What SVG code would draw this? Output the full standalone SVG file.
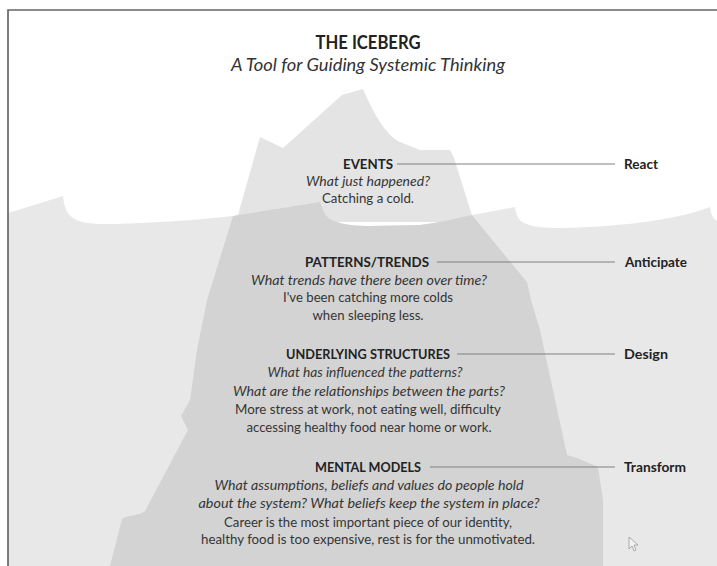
<svg xmlns="http://www.w3.org/2000/svg" width="717" height="566" viewBox="0 0 717 566">
<style>
.h{font-family:Lato,"Liberation Sans",sans-serif;font-weight:bold;font-size:14px;fill:#222;text-anchor:middle}
.r{font-family:Lato,"Liberation Sans",sans-serif;font-weight:bold;font-size:14px;fill:#222}
.q{font-family:Lato,"Liberation Sans",sans-serif;font-style:italic;font-size:14px;fill:#353535;text-anchor:middle}
.b{font-family:Lato,"Liberation Sans",sans-serif;font-size:14px;fill:#353535;text-anchor:middle}
.c{stroke:#808080;stroke-width:1.2;fill:none}
</style>
<rect width="717" height="566" fill="#fff"/>
<g id="scene">
<path id="tip" d="M236,222 L260,137 L283,148 L342,95 L363,89 C372,110 385,135 400,142 L420,150 L450,150 L454,158 L474,222 Z" fill="#e4e4e4"/>
<path id="sea" d="M8,213 L63,196 C64,206 66,213 73,218 C82,224 95,224 115,224 Q180,222 233,216 L320,202 L324,212 C328,222 345,226 370,226 L420,225 C445,222 460,217 472,215 L515,207 C516,215 518,220 524,223 C532,227 545,228 560,228 C610,227 670,222 710,207 C711,214 713,219 717,221 L717,566 L8,566 Z" fill="#e8e8e8"/>
<path id="submerged" d="M233,216 L320,202 L324,212 C328,222 345,226 370,226 L420,225 C445,222 460,217 472,215 L503,253 L527,282 L531,300 L540,330 L567,455 L577,458 L598,467 L603,500 L603,566 L110,566 L122,519 C126,515 140,516 145,511 L188,430 L181,416 L190,400 L197,350 L207,300 Z" fill="#d3d3d3"/>
<path id="cursor" d="M629,537 L629,549 L632,546 L634,551 L636,550 L634,545 L638,545 Z" fill="#f2f2f2" stroke="#9a9a9a" stroke-width="0.8"/>
</g>
<g id="border" stroke="#666" stroke-width="1.7" fill="none">
<path d="M8,566 L8,10 L717,10"/>
</g>
<g id="title">
<text x="368" y="49" style="font-family:Lato,'Liberation Sans',sans-serif;font-weight:bold;font-size:18px;fill:#222" text-anchor="middle" textLength="105" lengthAdjust="spacingAndGlyphs">THE ICEBERG</text>
<text x="368" y="71" style="font-family:Lato,'Liberation Sans',sans-serif;font-style:italic;font-size:17px;fill:#333" text-anchor="middle" textLength="274" lengthAdjust="spacingAndGlyphs">A Tool for Guiding Systemic Thinking</text>
</g>
<g id="connectors">
<line class="c" x1="397" y1="164" x2="615" y2="164"/>
<line class="c" x1="437" y1="262" x2="615" y2="262"/>
<line class="c" x1="457" y1="354" x2="615" y2="354"/>
<line class="c" x1="430" y1="467" x2="615" y2="467"/>
</g>
<g id="events">
<text class="h" x="368" y="169" textLength="50" lengthAdjust="spacingAndGlyphs">EVENTS</text>
<text class="q" x="368" y="186" textLength="124" lengthAdjust="spacingAndGlyphs">What just happened?</text>
<text class="b" x="368" y="203" textLength="92" lengthAdjust="spacingAndGlyphs">Catching a cold.</text>
</g>
<g id="patterns">
<text class="h" x="367" y="267" textLength="124" lengthAdjust="spacingAndGlyphs">PATTERNS/TRENDS</text>
<text class="q" x="369" y="285" textLength="236" lengthAdjust="spacingAndGlyphs">What trends have there been over time?</text>
<text class="b" x="368" y="302" textLength="170" lengthAdjust="spacingAndGlyphs">I've been catching more colds</text>
<text class="b" x="368" y="320" textLength="111" lengthAdjust="spacingAndGlyphs">when sleeping less.</text>
</g>
<g id="structures">
<text class="h" x="368" y="359" textLength="164" lengthAdjust="spacingAndGlyphs">UNDERLYING STRUCTURES</text>
<text class="q" x="365" y="377" textLength="195" lengthAdjust="spacingAndGlyphs">What has influenced the patterns?</text>
<text class="q" x="369" y="396" textLength="272" lengthAdjust="spacingAndGlyphs">What are the relationships between the parts?</text>
<text class="b" x="368" y="414" textLength="266" lengthAdjust="spacingAndGlyphs">More stress at work, not eating well, difficulty</text>
<text class="b" x="369" y="432" textLength="245" lengthAdjust="spacingAndGlyphs">accessing healthy food near home or work.</text>
</g>
<g id="mental-models">
<text class="h" x="368" y="472" textLength="106" lengthAdjust="spacingAndGlyphs">MENTAL MODELS</text>
<text class="q" x="369" y="490" textLength="309" lengthAdjust="spacingAndGlyphs">What assumptions, beliefs and values do people hold</text>
<text class="q" x="369" y="508" textLength="341" lengthAdjust="spacingAndGlyphs">about the system? What beliefs keep the system in place?</text>
<text class="b" x="368" y="527" textLength="288" lengthAdjust="spacingAndGlyphs">Career is the most important piece of our identity,</text>
<text class="b" x="368" y="544" textLength="334" lengthAdjust="spacingAndGlyphs">healthy food is too expensive, rest is for the unmotivated.</text>
</g>
<g id="react"><text class="r" x="624" y="169" textLength="34" lengthAdjust="spacingAndGlyphs">React</text></g>
<g id="anticipate"><text class="r" x="625" y="267" textLength="62" lengthAdjust="spacingAndGlyphs">Anticipate</text></g>
<g id="design"><text class="r" x="624" y="359" textLength="44" lengthAdjust="spacingAndGlyphs">Design</text></g>
<g id="transform"><text class="r" x="624" y="472" textLength="62" lengthAdjust="spacingAndGlyphs">Transform</text></g>
</svg>
